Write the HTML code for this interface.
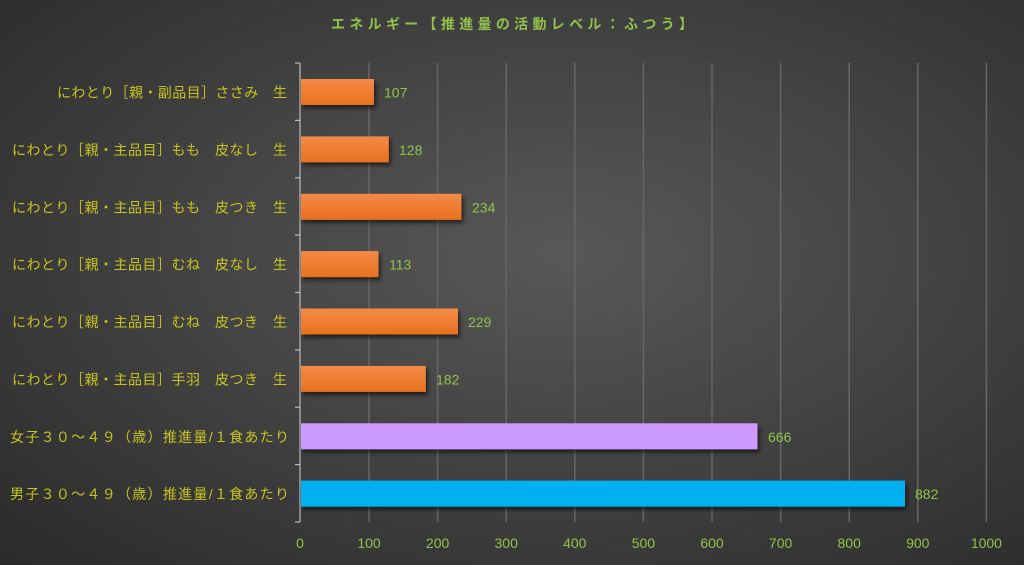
<!DOCTYPE html>
<html><head><meta charset="utf-8"><style>
html,body{margin:0;padding:0}
body{width:1024px;height:565px;overflow:hidden;background:radial-gradient(ellipse at 55% 45%,#585858 0%,#444 45%,#2a2a2a 100%);font-family:"Liberation Sans","Noto Sans CJK JP",sans-serif}
</style></head><body>
<svg width="1024" height="565" xmlns="http://www.w3.org/2000/svg" style="position:absolute;left:0;top:0">
<defs>
<linearGradient id="og" x1="0" y1="0" x2="0" y2="1"><stop offset="0" stop-color="#f48a48"/><stop offset="1" stop-color="#e8701e"/></linearGradient>
<filter id="sh" x="-5%" y="-20%" width="115%" height="160%"><feDropShadow dx="2" dy="3" stdDeviation="2" flood-color="#000" flood-opacity="0.6"/></filter>
</defs>
<text x="331" y="29" textLength="362" lengthAdjust="spacing" fill="#92c24a" font-size="14" font-weight="bold">エネルギー【推進量の活動レベル：ふつう】</text>
<g stroke="#666" stroke-width="1.5">
<line x1="369" y1="63" x2="369" y2="522"/><line x1="437.6" y1="63" x2="437.6" y2="522"/><line x1="506.2" y1="63" x2="506.2" y2="522"/><line x1="574.8" y1="63" x2="574.8" y2="522"/><line x1="643.4" y1="63" x2="643.4" y2="522"/><line x1="712" y1="63" x2="712" y2="522"/><line x1="780.6" y1="63" x2="780.6" y2="522"/><line x1="849.2" y1="63" x2="849.2" y2="522"/><line x1="917.8" y1="63" x2="917.8" y2="522"/><line x1="986.4" y1="63" x2="986.4" y2="522"/>
</g>
<g stroke="#bbb" stroke-width="1.2" fill="none">
<line x1="300" y1="63" x2="300" y2="522"/>
<line x1="295" y1="63" x2="300" y2="63"/><line x1="295" y1="120.4" x2="300" y2="120.4"/><line x1="295" y1="177.8" x2="300" y2="177.8"/><line x1="295" y1="235.1" x2="300" y2="235.1"/><line x1="295" y1="292.5" x2="300" y2="292.5"/><line x1="295" y1="349.9" x2="300" y2="349.9"/><line x1="295" y1="407.3" x2="300" y2="407.3"/><line x1="295" y1="464.6" x2="300" y2="464.6"/><line x1="295" y1="522" x2="300" y2="522"/>
</g>
<g filter="url(#sh)">
<rect x="301" y="79" width="73" height="26" fill="url(#og)"/>
<rect x="301" y="136.4" width="87.8" height="26" fill="url(#og)"/>
<rect x="301" y="193.8" width="160.5" height="26" fill="url(#og)"/>
<rect x="301" y="251.1" width="77.5" height="26" fill="url(#og)"/>
<rect x="301" y="308.5" width="157" height="26" fill="url(#og)"/>
<rect x="301" y="365.9" width="124.8" height="26" fill="url(#og)"/>
<rect x="301" y="423.3" width="456.5" height="26" fill="#cc99ff"/>
<rect x="301" y="480.6" width="604" height="26" fill="#00b0f0"/>
</g>
<g fill="#92c24a" font-size="14">
<text x="384" y="97.5">107</text><text x="399" y="155">128</text><text x="472" y="212.3">234</text><text x="389" y="269.6">113</text><text x="468" y="327">229</text><text x="436" y="384.4">182</text><text x="768" y="441.8">666</text><text x="915" y="499.1">882</text>
</g>
<g fill="#92c24a" font-size="14" text-anchor="middle">
<text x="300" y="548">0</text><text x="369" y="548">100</text><text x="437.6" y="548">200</text><text x="506.2" y="548">300</text><text x="574.8" y="548">400</text><text x="643.4" y="548">500</text><text x="712" y="548">600</text><text x="780.6" y="548">700</text><text x="849.2" y="548">800</text><text x="917.8" y="548">900</text><text x="986.4" y="548">1000</text>
</g>
<g fill="#c8c41e" font-size="14" lengthAdjust="spacing">
<text x="57" y="97.5" textLength="230" lengthAdjust="spacing">にわとり［親・副品目］ささみ　生</text>
<text x="12" y="155" textLength="275" lengthAdjust="spacing">にわとり［親・主品目］もも　皮なし　生</text>
<text x="12" y="212.3" textLength="275" lengthAdjust="spacing">にわとり［親・主品目］もも　皮つき　生</text>
<text x="12" y="269.6" textLength="275" lengthAdjust="spacing">にわとり［親・主品目］むね　皮なし　生</text>
<text x="12" y="327" textLength="275" lengthAdjust="spacing">にわとり［親・主品目］むね　皮つき　生</text>
<text x="12" y="384.4" textLength="275" lengthAdjust="spacing">にわとり［親・主品目］手羽　皮つき　生</text>
<text x="10" y="441.8" textLength="279" lengthAdjust="spacing">女子３０～４９（歳）推進量/１食あたり</text>
<text x="10" y="499.1" textLength="279" lengthAdjust="spacing">男子３０～４９（歳）推進量/１食あたり</text>
</g>
</svg>
</body></html>
